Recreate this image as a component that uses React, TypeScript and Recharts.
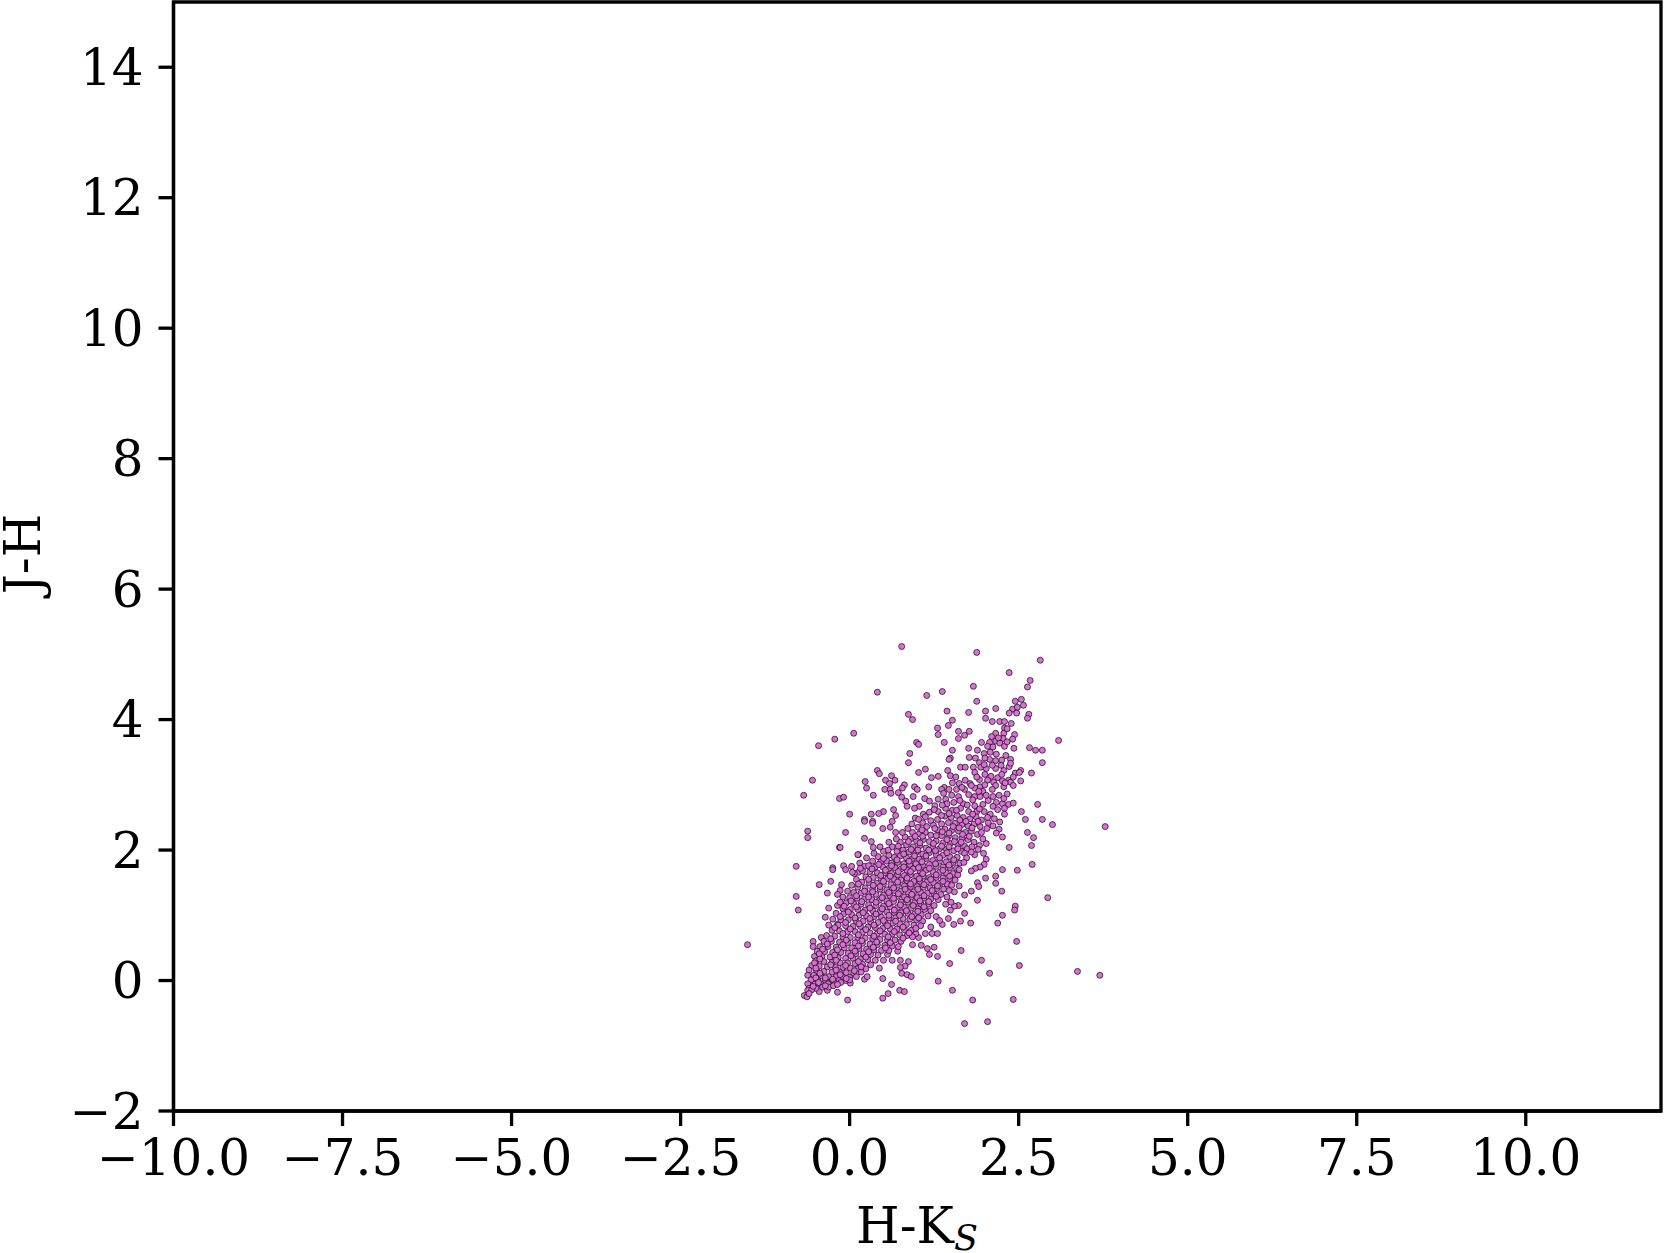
import { ScatterChart, Scatter, XAxis, YAxis, ReferenceArea, Label } from 'recharts';

const xTicks = [-10, -7.5, -5, -2.5, 0, 2.5, 5, 7.5, 10];
const yTicks = [-2, 0, 2, 4, 6, 8, 10, 12, 14];

// [H-Ks, J-H]
const outliersTop = [
  [0.77, 5.12], [1.88, 5.03], [2.82, 4.91], [2.36, 4.72], [2.67, 4.6], [2.63, 4.5], [0.41, 4.42], [1.14, 4.37], [1.37, 4.43],
  [1.83, 4.51], [1.88, 4.28], [1.44, 4.13], [1.76, 4.11], [2.01, 4.13], [2.16, 4.17], [0.87, 4.08], [0.93, 4.0], [1.52, 3.99],
  [1.46, 3.91], [1.3, 3.87], [1.31, 3.77], [1.61, 3.82], [1.77, 3.82], [1.7, 3.76], [1.61, 3.71], [2.01, 4.02], [0.06, 3.79],
  [-0.22, 3.7], [-0.46, 3.6], [3.09, 3.68], [2.66, 3.57], [2.75, 3.53], [2.85, 3.53], [2.85, 3.34], [0.99, 3.65], [1.02, 3.62],
  [1.4, 3.65], [1.76, 3.56], [1.52, 3.53], [0.89, 3.48], [0.87, 3.34], [1.49, 3.41], [1.47, 3.39],
];

const outliersLeft = [
  [-0.55, 3.07], [-0.68, 2.84], [-0.15, 2.79], [-0.09, 2.81], [0, 2.55], [-0.62, 2.29], [-0.62, 2.19], [-0.06, 2.27], [-0.79, 1.75],
  [-0.79, 1.29], [-0.76, 1.08], [-1.51, 0.55], [1.45, 3.22], [1.49, 3.14], [1.31, 3.13], [1.21, 3.11], [1.12, 3.24], [1.02, 3.19],
  [1.17, 2.97], [1.4, 2.96], [1.36, 2.93], [0.96, 2.97], [1, 2.93], [0.94, 2.82], [0.81, 3], [0.78, 2.95], [0.72, 2.88], [0.77, 2.81],
  [0.41, 3.22], [0.44, 3.17], [0.62, 3.14], [0.67, 3.07], [0.53, 3.07], [0.59, 3.02], [0.23, 3.05], [0.25, 2.95], [0.52, 2.93],
  [0.6, 2.93], [0.61, 2.87], [0.35, 2.84], [0.83, 2.75], [0.85, 2.67], [1.11, 2.79], [1.18, 2.75], [1.26, 2.68], [1.31, 2.78],
  [1.42, 2.78], [1.39, 2.87], [1.03, 2.67], [0.96, 2.64], [1.09, 2.55], [1.18, 2.58], [0.65, 2.62], [0.5, 2.59], [0.43, 2.56],
  [0.32, 2.55], [0.68, 2.53], [0.63, 2.44], [0.34, 2.44], [0.34, 2.41], [0.22, 2.47], [0.22, 2.44], [0.49, 2.33], [0.6, 2.35],
  [0.68, 2.27], [0.22, 2.18], [0.32, 2.13], [0.35, 2.04], [-0.15, 2.04], [-0.14, 2.04], [0.13, 1.93], [0.12, 1.93], [-0.09, 1.76],
  [-0.25, 1.73], [-0.25, 1.7], [-0.06, 1.7], [0.03, 1.75], [0.15, 1.8], [0.22, 1.75], [0.13, 1.66], [0.07, 1.64], [0.04, 1.66],
  [-0.28, 1.52], [-0.45, 1.47], [-0.12, 1.47], [-0.14, 1.38], [-0.33, 1.34], [-0.18, 1.32], [-0.18, 1.15], [-0.31, 1.11], [-0.36, 0.97],
  [-0.31, 0.85], [-0.18, 0.86], [-0.42, 0.66], [-0.54, 0.6], [-0.54, 0.52],
];

const outliersRight = [
  [3.78, 2.36], [3, 2.39], [2.85, 2.47], [2.78, 2.7], [2.54, 2.59], [2.6, 2.47], [2.63, 2.27], [2.72, 2.19], [2.69, 2.07], [2.36, 2.04],
  [2.7, 1.78], [2.48, 1.69], [2.26, 1.7], [2.93, 1.27], [2.16, 1.6], [2.01, 1.57], [2.16, 1.49], [2.25, 1.37], [1.89, 1.5], [1.91, 1.44],
  [1.8, 1.37], [1.7, 1.31], [1.89, 1.23], [2.45, 1.14], [2.44, 1.08], [2.26, 1], [2.19, 0.88], [2.47, 0.6], [1.7, 1.03], [1.61, 1.15],
  [1.55, 1.14], [1.49, 1.08], [1.46, 0.95], [1.54, 0.86], [1.64, 0.91], [1.79, 0.88], [1.37, 0.86], [1.65, 0.46], [1.48, 0.26],
  [1.95, 0.31], [2.07, 0.11], [2.51, 0.23], [3.37, 0.14], [3.7, 0.08], [1.31, -0.01], [1.52, -0.15], [1.82, -0.3], [2.42, -0.29],
  [1.7, -0.66], [2.04, -0.63], [1.3, 0.37], [1.18, 0.4], [1.15, 0.49], [1.25, 0.51], [1.06, 0.54], [0.93, 0.55], [0.62, -0.06],
  [0.57, -0.2], [0.49, -0.27], [0.74, -0.15], [0.81, -0.17], [-0.03, -0.3], [-0.18, -0.18], [-0.33, -0.15], [-0.45, -0.17], [0.49, 0.03],
  [0.22, 0.02], [0.26, 0.06], [0.01, -0.04], [0.44, 0.19], [0.75, 0.31], [0.87, 0.29], [0.82, 0.22], [0.75, 0.2], [0.77, 0.11],
  [0.85, 0.09], [0.91, 0.06], [0.63, 0.31], [0.56, 0.4], [0.71, 0.45], [1.98, 1.95], [2.02, 1.86], [1.99, 1.78], [1.93, 1.74],
  [1.86, 1.72], [1.8, 1.68], [1.85, 1.93], [2.02, 2.1], [2.12, 2.37], [2.21, 2.32], [2.17, 2.26], [2.26, 2.2], [2.05, 2.42],
  [1.62, 1.45], [1.55, 1.36], [1.44, 1.28], [1.42, 1.17], [1.5, 1.2], [1.28, 0.98], [1.33, 0.92], [1.2, 0.82], [1.12, 0.72],
  [1.22, 0.72], [1.3, 0.72], [1.02, 0.66], [0.98, 0.72],
];

const bandUpper = [
  [2.45, 4.28], [2.54, 4.31], [2.41, 4.16], [2.48, 4.19], [2.57, 4.22], [2.36, 4.1], [2.47, 4.1], [2.65, 4.08], [2.63, 4.02], [2.22, 3.97],
  [2.11, 3.97], [2.29, 3.97], [2.39, 3.94], [2.29, 3.87], [2.28, 3.79], [2.44, 3.77], [2.41, 3.7], [2.16, 3.79], [2.1, 3.74], [2.27, 3.71],
  [2.07, 3.65], [2.16, 3.67], [2.22, 3.64], [2.29, 3.59], [2.43, 3.56], [1.95, 3.65], [2.04, 3.59], [1.89, 3.53], [1.99, 3.48], [2.08, 3.5],
  [2.17, 3.47], [2.31, 3.45], [2.38, 3.39], [1.86, 3.41], [1.77, 3.42], [2.16, 3.37], [2.07, 3.39], [1.92, 3.34], [2.36, 3.28], [2.28, 3.22],
  [2.53, 3.22], [2.45, 3.18], [2.51, 3.19], [2.69, 3.18], [2.53, 3.06], [2.35, 3.07], [2.38, 3.04], [2.28, 2.97], [1.64, 3.27], [1.71, 3.27],
  [1.83, 3.27], [1.94, 3.27], [2.02, 3.25], [2.16, 3.25], [1.85, 3.19], [2, 3.16], [2.09, 3.13], [2.19, 3.11], [1.92, 3.08], [2.04, 3.07],
  [1.71, 3.07], [1.78, 3.02], [1.62, 3.02], [1.93, 2.97], [1.85, 2.95], [1.7, 2.93], [1.58, 2.93], [1.97, 2.9], [1.76, 2.85], [1.85, 2.82],
  [1.93, 2.82], [1.61, 2.82], [1.51, 2.84], [2.12, 2.82], [2.21, 2.84], [2.05, 2.76], [2.17, 2.73], [2.26, 2.71], [2.35, 2.7], [1.68, 2.71],
  [1.54, 2.73], [1.85, 2.68], [1.97, 2.7], [2.29, 2.64], [2.08, 2.55], [1.99, 2.59], [1.88, 2.59], [1.76, 2.59], [1.64, 2.64], [1.52, 2.61],
  [1.42, 2.64], [1.31, 2.59], [1.41, 2.52], [1.5, 2.5], [1.59, 2.53], [1.68, 2.5], [1.78, 2.48], [1.87, 2.51], [1.95, 2.46], [1.3, 2.47],
  [1.2, 2.45], [1.08, 2.42], [0.97, 2.49], [0.92, 2.4], [1.01, 2.35], [1.14, 2.36], [1.24, 2.38], [1.36, 2.4], [1.46, 2.42], [1.56, 2.41],
  [1.66, 2.39], [1.75, 2.37], [1.84, 2.4], [1.93, 2.36], [1.3, 2.31], [1.41, 2.32], [1.51, 2.3], [1.61, 2.29], [1.71, 2.27], [1.8, 2.29],
  [1.89, 2.24], [0.93, 2.27], [1.03, 2.25], [1.12, 2.27], [1.2, 2.23], [1.36, 2.22], [1.46, 2.21], [1.56, 2.19], [1.66, 2.18], [1.75, 2.16],
  [1.84, 2.12], [0.82, 2.2], [0.9, 2.17], [0.99, 2.14], [1.09, 2.16], [1.18, 2.13], [1.28, 2.14], [1.38, 2.11], [1.49, 2.1], [1.6, 2.08],
  [1.7, 2.06], [0.75, 2.12], [0.84, 2.08], [0.94, 2.05], [1.04, 2.07], [1.13, 2.03], [1.23, 2.05], [1.33, 2.02], [1.43, 2.01], [1.54, 1.99],
  [1.65, 1.98], [1.74, 2.02], [1.81, 2.05], [0.63, 2.05], [0.7, 1.98], [0.79, 2], [0.88, 1.97], [0.98, 1.96], [1.08, 1.94], [1.18, 1.96],
  [1.28, 1.93], [1.38, 1.92], [1.48, 1.9], [1.59, 1.89],
];

const bandMiddle = [
  [0.5, 1.98], [0.58, 1.92], [0.42, 1.9], [0.66, 1.89], [0.75, 1.91], [0.84, 1.88], [0.93, 1.87], [1.03, 1.86], [1.13, 1.87], [1.23, 1.84],
  [1.33, 1.83], [1.43, 1.82], [1.53, 1.81], [1.63, 1.8], [0.34, 1.83], [0.46, 1.82], [0.55, 1.83], [0.62, 1.8], [0.71, 1.81], [0.8, 1.79],
  [0.89, 1.78], [0.98, 1.79], [1.08, 1.77], [1.18, 1.78], [1.28, 1.75], [1.38, 1.74], [1.48, 1.73], [1.58, 1.72], [0.28, 1.76], [0.38, 1.74],
  [0.49, 1.74], [0.58, 1.72], [0.67, 1.73], [0.76, 1.71], [0.85, 1.69], [0.94, 1.71], [1.04, 1.68], [1.13, 1.69], [1.23, 1.67], [1.33, 1.66],
  [1.43, 1.65], [1.53, 1.64], [1.6, 1.62], [0.19, 1.68], [0.3, 1.67], [0.41, 1.65], [0.52, 1.65], [0.62, 1.64], [0.71, 1.62], [0.81, 1.61],
  [0.9, 1.62], [0.99, 1.6], [1.09, 1.6], [1.18, 1.58], [1.28, 1.58], [1.38, 1.57], [1.48, 1.56], [1.56, 1.54], [0.24, 1.59], [0.35, 1.58],
  [0.46, 1.57], [0.56, 1.56], [0.66, 1.55], [0.76, 1.54], [0.85, 1.53], [0.95, 1.52], [1.04, 1.52], [1.14, 1.51], [1.24, 1.5], [1.34, 1.49],
  [1.44, 1.48], [1.51, 1.46], [0.1, 1.55], [0.18, 1.51], [0.29, 1.5], [0.4, 1.49], [0.5, 1.48], [0.61, 1.47], [0.71, 1.46], [0.81, 1.45],
  [0.9, 1.44], [1, 1.44], [1.09, 1.43], [1.19, 1.42], [1.29, 1.41], [1.39, 1.4], [1.47, 1.38], [0.03, 1.46], [0.12, 1.43], [0.23, 1.42],
  [0.34, 1.41], [0.45, 1.4], [0.55, 1.39], [0.66, 1.38], [0.76, 1.37], [0.86, 1.36], [0.95, 1.36], [1.05, 1.35], [1.15, 1.34], [1.25, 1.33],
  [1.35, 1.32], [-0.03, 1.37], [0.06, 1.35], [0.17, 1.34], [0.28, 1.33], [0.39, 1.32], [0.5, 1.31], [0.6, 1.3], [0.71, 1.29], [0.81, 1.28],
  [0.91, 1.28], [1, 1.27], [1.1, 1.26], [1.2, 1.25], [1.31, 1.24], [-0.1, 1.28], [0, 1.27], [0.11, 1.26], [0.22, 1.25], [0.33, 1.24],
  [0.44, 1.23], [0.55, 1.22], [0.65, 1.21], [0.76, 1.2], [0.86, 1.2], [0.96, 1.19], [1.05, 1.18], [1.16, 1.17], [1.25, 1.15], [-0.14, 1.2],
  [-0.05, 1.19], [0.06, 1.18], [0.17, 1.17], [0.28, 1.16], [0.39, 1.15], [0.5, 1.14], [0.6, 1.13], [0.71, 1.12], [0.81, 1.12], [0.91, 1.11],
  [1.01, 1.1], [1.11, 1.09], [1.2, 1.07], [-0.1, 1.1], [0.01, 1.09], [0.12, 1.09], [0.23, 1.08], [0.34, 1.07], [0.45, 1.06], [0.55, 1.05],
  [0.66, 1.04], [0.76, 1.04], [0.86, 1.03], [0.96, 1.02], [1.06, 1.01], [1.16, 0.99],
];

const bandLower = [
  [-0.2, 1.03], [-0.09, 1.02], [0.03, 1.01], [0.14, 1], [0.25, 0.99], [0.36, 0.98], [0.47, 0.97], [0.58, 0.96], [0.68, 0.96], [0.79, 0.95],
  [0.89, 0.94], [0.99, 0.93], [1.08, 0.91], [-0.25, 0.94], [-0.13, 0.93], [-0.02, 0.93], [0.09, 0.92], [0.2, 0.91], [0.31, 0.9], [0.42, 0.89],
  [0.53, 0.88], [0.64, 0.88], [0.74, 0.87], [0.84, 0.86], [0.95, 0.85], [1.05, 0.84], [-0.17, 0.85], [-0.06, 0.84], [0.05, 0.83], [0.16, 0.83],
  [0.27, 0.82], [0.38, 0.81], [0.49, 0.8], [0.6, 0.79], [0.7, 0.79], [0.81, 0.78], [0.91, 0.77], [-0.26, 0.77], [-0.15, 0.76], [-0.03, 0.75],
  [0.08, 0.75], [0.19, 0.74], [0.3, 0.73], [0.41, 0.72], [0.52, 0.71], [0.63, 0.71], [0.74, 0.7], [0.85, 0.69], [0.93, 0.67], [-0.34, 0.69],
  [-0.22, 0.68], [-0.1, 0.67], [0.01, 0.66], [0.12, 0.66], [0.23, 0.65], [0.34, 0.64], [0.45, 0.63], [0.56, 0.62], [0.67, 0.62], [0.76, 0.6],
  [-0.38, 0.6], [-0.27, 0.6], [-0.15, 0.59], [-0.03, 0.58], [0.08, 0.58], [0.19, 0.57], [0.3, 0.56], [0.41, 0.55], [0.52, 0.54], [0.63, 0.53],
  [0.72, 0.52], [-0.44, 0.52], [-0.32, 0.52], [-0.2, 0.51], [-0.08, 0.5], [0.03, 0.5], [0.14, 0.49], [0.25, 0.48], [0.36, 0.47], [0.47, 0.46],
  [0.58, 0.46], [-0.48, 0.45], [-0.37, 0.44], [-0.25, 0.43], [-0.13, 0.43], [-0.02, 0.42], [0.09, 0.41], [0.2, 0.41], [0.31, 0.4], [0.42, 0.39],
  [-0.52, 0.37], [-0.41, 0.37], [-0.29, 0.36], [-0.17, 0.35], [-0.06, 0.34], [0.05, 0.34], [0.16, 0.33], [0.27, 0.32], [0.38, 0.31], [0.5, 0.31],
  [-0.5, 0.3], [-0.38, 0.29], [-0.26, 0.28], [-0.14, 0.27], [-0.03, 0.27], [0.08, 0.26], [0.19, 0.25], [0.31, 0.24], [-0.56, 0.23], [-0.45, 0.22],
  [-0.33, 0.21], [-0.21, 0.2], [-0.1, 0.2], [0.01, 0.19], [0.12, 0.18], [0.24, 0.18], [-0.6, 0.16], [-0.49, 0.15], [-0.38, 0.14], [-0.26, 0.13],
  [-0.15, 0.13], [-0.05, 0.12], [0.06, 0.11], [0.17, 0.13], [-0.62, 0.08], [-0.53, 0.08], [-0.42, 0.07], [-0.31, 0.06], [-0.2, 0.06], [-0.1, 0.05],
  [0, 0.05], [0.1, 0.06], [-0.57, 0.01], [-0.47, 0], [-0.36, 0], [-0.26, -0.01], [-0.16, 0], [-0.06, 0], [0, 0.01], [-0.62, -0.05],
  [-0.52, -0.06], [-0.42, -0.06], [-0.32, -0.05], [-0.22, -0.04], [-0.13, -0.03], [-0.6, -0.12], [-0.5, -0.12], [-0.4, -0.1], [-0.31, -0.1],
  [-0.24, -0.08], [-0.67, -0.23], [-0.63, -0.25], [-0.62, -0.15], [-0.56, -0.14], [-0.6, -0.2],
];

// second pass over the crowded part of the band
const bandDense = [
  [2.33, 3.86], [2.2, 3.72], [2.33, 3.66], [2.12, 3.58], [2, 3.41], [2.25, 3.38], [2.11, 3.3], [1.99, 3.31], [1.88, 3.12], [2.13, 3.04],
  [2.26, 3.06], [1.8, 2.99], [2.0, 3.0], [1.66, 2.96], [1.91, 2.9], [1.82, 2.77], [1.63, 2.76], [1.74, 2.69], [1.92, 2.63], [2.12, 2.67],
  [1.58, 2.61], [1.47, 2.56], [1.82, 2.55], [2.04, 2.5], [1.63, 2.46], [1.36, 2.53], [1.72, 2.44], [1.02, 2.47], [1.53, 2.36], [1.9, 2.44],
  [1.26, 2.33], [1.07, 2.31], [1.62, 2.34], [1.81, 2.34], [1.37, 2.28], [1.47, 2.26], [0.97, 2.21], [1.67, 2.24], [1.28, 2.22], [1.08, 2.21],
  [1.77, 2.21], [0.87, 2.13], [1.44, 2.16], [1.55, 2.13], [1.24, 2.1], [1.65, 2.12], [1.04, 2.11], [0.72, 2.06], [1.36, 2.06], [0.91, 2.01],
  [1.17, 2.0], [1.47, 2.05], [1.6, 2.02], [1.01, 2.0], [1.27, 1.99], [0.57, 2.0], [1.7, 1.95], [0.8, 1.94], [1.44, 1.96], [1.13, 1.91],
  [0.96, 1.91], [0.5, 1.87], [0.7, 1.85], [1.33, 1.88], [1.54, 1.85], [1.07, 1.82], [0.88, 1.83], [1.27, 1.79], [0.43, 1.78], [1.47, 1.77],
  [0.62, 1.76], [0.8, 1.74], [1.02, 1.73], [1.18, 1.72], [1.38, 1.69], [1.62, 1.7], [0.33, 1.71], [0.53, 1.69], [0.9, 1.67], [1.08, 1.64],
  [0.72, 1.67], [1.28, 1.62], [1.48, 1.6], [0.46, 1.61], [0.6, 1.6], [0.85, 1.57], [1.03, 1.56], [1.2, 1.55], [0.28, 1.55], [1.38, 1.52],
  [0.71, 1.51], [0.5, 1.52], [0.9, 1.48], [1.1, 1.47], [0.35, 1.46], [1.3, 1.45], [0.65, 1.42], [0.13, 1.48], [0.82, 1.4], [1.01, 1.4],
  [0.45, 1.44], [1.22, 1.38], [0.22, 1.37], [0.58, 1.35], [0.92, 1.32], [0.72, 1.33], [1.1, 1.3], [0.34, 1.36], [0.1, 1.3], [1.28, 1.29],
  [0.48, 1.27], [0.65, 1.26], [0.85, 1.24], [1.04, 1.22], [0.28, 1.28], [0.02, 1.22], [1.17, 1.21], [0.39, 1.2], [0.58, 1.18], [0.75, 1.16],
  [0.94, 1.15], [0.18, 1.21], [1.1, 1.13], [-0.08, 1.14], [0.3, 1.11], [0.48, 1.1], [0.66, 1.08], [0.84, 1.07], [0.1, 1.13], [1.01, 1.06],
  [-0.02, 1.05], [0.2, 1.04], [0.39, 1.02], [0.58, 1.0], [0.74, 1.0], [0.92, 0.98], [-0.14, 0.98], [0.08, 0.96], [0.3, 0.95], [0.5, 0.92],
  [0.68, 0.91], [1.02, 0.96], [-0.06, 0.89], [0.14, 0.87], [0.36, 0.85], [0.56, 0.84], [0.79, 0.82], [0.98, 0.8], [-0.22, 0.81], [0.01, 0.79],
  [0.24, 0.78], [0.45, 0.76], [0.66, 0.75], [0.88, 0.73], [-0.1, 0.72], [0.13, 0.7], [0.36, 0.68], [0.57, 0.67], [0.79, 0.65], [-0.28, 0.64],
  [-0.05, 0.62], [0.18, 0.61], [0.4, 0.59], [0.6, 0.58], [-0.33, 0.56], [-0.1, 0.55], [0.13, 0.53], [0.35, 0.51], [0.53, 0.5], [-0.4, 0.48],
  [-0.18, 0.47], [0.08, 0.45], [0.28, 0.44], [-0.45, 0.41], [-0.22, 0.39], [0.02, 0.38], [0.24, 0.36], [-0.44, 0.33], [-0.2, 0.31], [0.13, 0.29],
  [-0.52, 0.27], [-0.28, 0.24], [-0.06, 0.23], [0.17, 0.21], [-0.5, 0.19], [-0.2, 0.16], [0.07, 0.15], [-0.44, 0.11], [-0.14, 0.09], [-0.36, 0.04],
  [-0.05, 0.03], [-0.5, 0.04], [-0.25, 0.02], [-0.46, -0.03], [-0.18, -0.06], [-0.54, -0.09], [-0.36, -0.08],
];

// extra marks on the band's flanks between J-H 1.9 and 3.3
const bandFlanks = [
  [2.38, 3.33], [2.24, 3.3], [2.42, 3.12], [2.25, 3.16], [2.3, 3.03], [2.16, 2.99], [2.42, 2.99], [2.33, 2.86], [2.28, 2.79], [2.11, 2.93],
  [2.02, 2.84], [2.42, 2.72], [2.19, 2.62], [2.29, 2.55], [2.14, 2.48], [2.22, 2.43], [2.03, 2.33], [1.95, 2.27], [1.97, 2.17], [1.92, 2.07],
  [1.9, 2.01], [1.8, 1.97], [1.73, 1.88], [1.69, 1.81], [1.57, 3.12], [1.52, 3.03], [1.47, 2.93], [1.44, 2.71], [1.37, 2.69], [1.25, 2.62],
  [1.12, 2.51], [0.86, 2.33], [0.78, 2.27], [0.69, 2.17], [0.58, 2.12], [0.45, 2.05], [0.36, 1.95], [0.25, 1.88], [0.16, 1.72],
];

const allPoints = [...outliersTop, ...outliersLeft, ...outliersRight, ...bandUpper, ...bandMiddle, ...bandLower, ...bandDense, ...bandFlanks];
const data = allPoints.map(([hk, jh]) => ({ hk, jh }));

const fontFamily = '"DejaVu Serif", serif';
const formatX = (v: number) => (v < 0 ? '\u2212' : '') + Math.abs(v).toFixed(1);
const formatY = (v: number) => (v < 0 ? '\u2212' : '') + Math.abs(v);

const Dot = (props: any) => (
  <circle
    cx={props.cx}
    cy={props.cy}
    r={3}
    fill="#da70d6"
    stroke="#000"
    strokeOpacity={0.75}
    strokeWidth={0.9}
  />
);

export default function App() {
  return (
    <div style={{ position: 'absolute', left: 0, top: 0, width: 1664, height: 1253 }}>
      <ScatterChart width={1664} height={1253} margin={{ top: 2, right: 3, bottom: 0, left: 0 }}>
        <XAxis
          type="number"
          dataKey="hk"
          domain={[-10, 12]}
          ticks={xTicks}
          tickFormatter={formatX}
          height={142}
          interval={0}
          stroke="#000"
          strokeWidth={3.3}
          tickSize={15}
          tickMargin={13}
          tick={{ fill: '#000', fontSize: 50, fontFamily }}
        >
          <Label
            content={() => (
              <text x={917} y={1243} textAnchor="middle" fontSize={50} fontFamily={fontFamily} fill="#000">
                H-K
                <tspan fontStyle="italic" fontSize={35} dy={7}>
                  S
                </tspan>
              </text>
            )}
          />
        </XAxis>
        <YAxis
          type="number"
          dataKey="jh"
          domain={[-2, 15]}
          ticks={yTicks}
          tickFormatter={formatY}
          width={173.5}
          interval={0}
          stroke="#000"
          strokeWidth={3.3}
          tickSize={15}
          tickMargin={15}
          tick={{ fill: '#000', fontSize: 50, fontFamily }}
        >
          <Label
            content={() => (
              <text
                x={40}
                y={554}
                textAnchor="middle"
                transform="rotate(-90 40 554)"
                fontSize={50}
                fontFamily={fontFamily}
                fill="#000"
              >
                J-H
              </text>
            )}
          />
        </YAxis>
        <ReferenceArea x1={-10} x2={12} y1={-2} y2={15} fill="none" stroke="#000" strokeWidth={3.3} />
        <Scatter data={data} shape={Dot} isAnimationActive={false} />
      </ScatterChart>
    </div>
  );
}
